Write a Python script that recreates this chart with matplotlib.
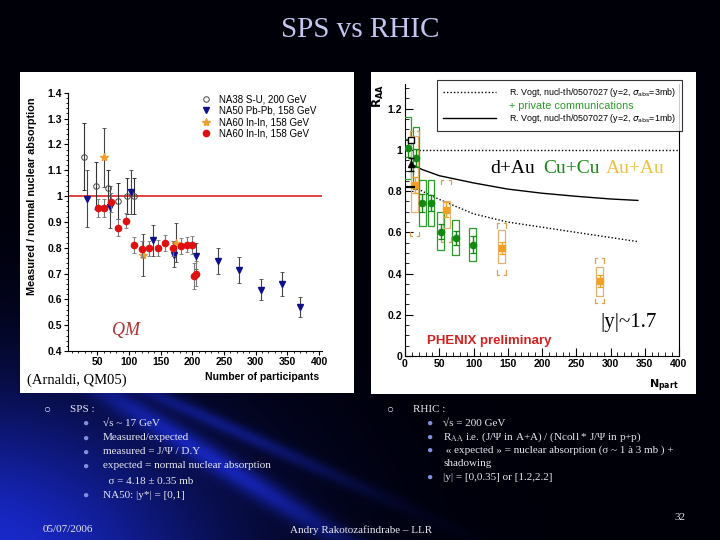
"""
SPS vs RHIC slide: J/psi suppression, NA50/NA60 vs PHENIX
"""

import numpy as np
import matplotlib
matplotlib.use("Agg")
import matplotlib.pyplot as plt
from matplotlib.patches import Rectangle
from matplotlib.lines import Line2D
from matplotlib.ticker import MultipleLocator, FormatStrFormatter

plt.rcParams['font.family'] = ['Liberation Sans', 'DejaVu Sans']

# ---------------- SPS data (Arnaldi, QM05) ----------------
na38_npart = [29, 48, 66, 82, 97, 108]
na38_val = [1.153, 1.04, 1.03, 0.98, 1.00, 1.00]
na38_err = [0.13, 0.09, 0.07, 0.07, 0.07, 0.07]

na50_npart = [33, 69, 103, 137, 171, 205, 241, 274, 308, 342, 369]
na50_val = [0.99, 0.957, 1.015, 0.828, 0.772, 0.768, 0.747, 0.714, 0.638, 0.66, 0.571]
na50_err = [0.11, 0.08, 0.085, 0.06, 0.045, 0.05, 0.05, 0.05, 0.042, 0.046, 0.038]

na60s_npart = [61, 122, 174]
na60s_val = [1.15, 0.772, 0.82]
na60s_err = [0.115, 0.08, 0.075]

na60_npart = [51, 60, 71, 83, 95, 107, 120, 132, 145, 157, 170, 182, 191, 199, 202, 205]
na60_val = [0.955, 0.955, 0.975, 0.877, 0.905, 0.81, 0.795, 0.797, 0.798, 0.818,
            0.797, 0.807, 0.812, 0.81, 0.69, 0.70]
na60_err = [0.035, 0.035, 0.035, 0.033, 0.03, 0.03, 0.03, 0.03, 0.03, 0.03,
            0.03, 0.03, 0.03, 0.035, 0.05, 0.05]

# ---------------- RHIC data (PHENIX preliminary) ----------------
cucu_npart = [4, 16, 25, 38, 52, 74, 99]
cucu_val = [1.01, 0.96, 0.742, 0.742, 0.604, 0.572, 0.54]
cucu_stat = [0.045, 0.045, 0.045, 0.04, 0.035, 0.035, 0.04]
cucu_sys_lo = [0.86, 0.81, 0.63, 0.63, 0.515, 0.49, 0.46]
cucu_sys_hi = [1.16, 1.11, 0.855, 0.855, 0.70, 0.66, 0.62]

auau_npart = [14, 60, 141, 284]
auau_val = [0.83, 0.71, 0.523, 0.364]
auau_stat = [0.04, 0.035, 0.03, 0.03]
auau_box_lo = [0.70, 0.62, 0.45, 0.29]
auau_box_hi = [1.07, 0.75, 0.61, 0.434]
auau_brk_lo = [0.58, 0.555, 0.395, 0.256]
auau_brk_hi = [1.09, 0.855, 0.645, 0.475]

dau_npart = [9, 9, 7]
dau_val = [1.05, 0.93, 0.82]

vogt_npart = [10, 25, 50, 100, 150, 200, 250, 300, 340]
vogt_1mb = [0.93, 0.905, 0.875, 0.84, 0.81, 0.79, 0.775, 0.762, 0.755]
vogt_3mb = [0.83, 0.80, 0.76, 0.69, 0.65, 0.625, 0.60, 0.575, 0.555]

W, H = 720, 540


def px(x, y):
    return x / W, 1 - y / H


def fig_rect(x0, y0, x1, y1):
    return [x0 / W, 1 - y1 / H, (x1 - x0) / W, (y1 - y0) / H]


fig = plt.figure(figsize=(7.2, 5.4), dpi=100)

# ---- slide background: dark with blue swoosh bottom-left
bg = fig.add_axes([0, 0, 1, 1], zorder=-1)
yy, xx = np.mgrid[0:H, 0:W].astype(float)
glow = np.exp(-(((xx + 30) / 250.0) ** 2 + ((570 - yy) / 175.0) ** 2))
d1 = (yy - 392) - 0.62 * (xx - 105)
d2 = (yy - 392) - 0.45 * (xx - 150)
fade = np.exp(-((xx - 220) / 150.0) ** 2) * (yy > 390)
streak = (0.6 * np.exp(-(d1 / 14.0) ** 2) + 0.4 * np.exp(-(d2 / 8.0) ** 2)) * fade
blue = np.array([0.10, 0.17, 0.80])
base = np.array([0.0, 0.0, 0.035])
img = base + (1.0 * glow + streak)[..., None] * blue
bg.imshow(np.clip(img, 0, 1), extent=(0, W, H, 0), aspect='auto')
bg.add_patch(Rectangle((20, 72), 334, 321, facecolor='white', edgecolor='none'))
bg.add_patch(Rectangle((371, 72), 325, 322, facecolor='white', edgecolor='none'))
bg.set_xlim(0, W)
bg.set_ylim(H, 0)
bg.axis('off')

# ---------------- left plot ----------------
ax1 = fig.add_axes(fig_rect(67.7, 92.7, 321.7, 351))
ax1.axhline(1.0, color='#e02020', lw=1.2, zorder=1)
ebk = dict(elinewidth=0.8, capsize=1.5, capthick=0.6, ls='none')
c1 = ax1.errorbar(na38_npart, na38_val, yerr=na38_err, fmt='o', mfc='none', mec='#444444',
                  ms=4, mew=0.7, ecolor='#333333', zorder=3, **ebk)
c2 = ax1.errorbar(na50_npart, na50_val, yerr=na50_err, fmt='v', color='#10108a', ms=4.5,
                  ecolor='#444444', zorder=4, **ebk)
c3 = ax1.errorbar(na60s_npart, na60s_val, yerr=na60s_err, fmt='*', color='#f0a030', ms=6,
                  ecolor='#444444', zorder=4, **ebk)
c4 = ax1.errorbar(na60_npart, na60_val, yerr=na60_err, fmt='o', color='#e01010', ms=4.5,
                  ecolor='#777777', zorder=5, **ebk)
ax1.legend([c1[0], c2[0], c3[0], c4[0]],
           ['NA38 S-U, 200 GeV', 'NA50 Pb-Pb, 158 GeV', 'NA60 In-In, 158 GeV', 'NA60 In-In, 158 GeV'],
           loc='upper left', bbox_to_anchor=(0.5, 1.02), frameon=False, fontsize=7,
           handlelength=1.0, handletextpad=0.8, labelspacing=0.15, borderpad=0.2)
ax1.set_xlim(3, 404)
ax1.set_ylim(0.4, 1.4)
ax1.xaxis.set_major_locator(MultipleLocator(50))
ax1.xaxis.set_minor_locator(MultipleLocator(10))
ax1.yaxis.set_major_locator(MultipleLocator(0.1))
ax1.yaxis.set_minor_locator(MultipleLocator(0.02))
ax1.xaxis.set_major_formatter(FormatStrFormatter('%g'))
ax1.yaxis.set_major_formatter(FormatStrFormatter('%g'))
ax1.set_xticks(np.arange(50, 401, 50))
ax1.tick_params(which='major', direction='out', length=3, width=0.8, labelsize=7.5, pad=1)
ax1.tick_params(which='minor', direction='out', length=1.5, width=0.6)
for lab in ax1.get_xticklabels() + ax1.get_yticklabels():
    lab.set_fontweight('bold')
for s in ['top', 'right']:
    ax1.spines[s].set_visible(False)
ax1.set_ylabel('Measured / normal nuclear absorption', fontsize=7.8, fontweight='bold')
ax1.yaxis.set_label_coords(-0.12, 0.60)
ax1.set_xlabel('Number of participants', fontsize=7.5, fontweight='bold', loc='right')
ax1.xaxis.set_label_coords(0.99, -0.08)

# ---------------- right plot ----------------
ax2 = fig.add_axes(fig_rect(405, 84, 679, 356))
ax2.axhline(1.0, xmin=0.025, color='black', ls=(0, (1, 1.5)), lw=1.0, zorder=1)
ax2.plot(vogt_npart, vogt_1mb, color='black', lw=1.0, zorder=2)
ax2.plot(vogt_npart, vogt_3mb, color='black', ls=(0, (1, 1.5)), lw=1.0, zorder=2)

box_w = 10
for x, lo, hi in zip(cucu_npart, cucu_sys_lo, cucu_sys_hi):
    ax2.add_patch(Rectangle((x - box_w / 2, lo), box_w, hi - lo, fill=False,
                            edgecolor='#2a9a2a', lw=0.9, zorder=3))
for x, lo, hi in zip(auau_npart, auau_box_lo, auau_box_hi):
    ax2.add_patch(Rectangle((x - box_w / 2, lo), box_w, hi - lo, fill=False,
                            edgecolor='#e0b070', lw=0.9, zorder=3))
brk_w, brk_h = 14, 0.022
for x, lo, hi in zip(auau_npart, auau_brk_lo, auau_brk_hi):
    for sx in (-1, 1):
        xe = x + sx * brk_w / 2
        xi = x + sx * (brk_w / 2 - 3)
        ax2.plot([xi, xe, xe], [lo, lo, lo + brk_h], color='#d8a050', lw=0.9, zorder=3)
        ax2.plot([xi, xe, xe], [hi, hi, hi - brk_h], color='#d8a050', lw=0.9, zorder=3)

ax2.errorbar(cucu_npart, cucu_val, yerr=cucu_stat, fmt='o', color='#128a12', ms=4.5,
             elinewidth=1.0, capsize=2.5, capthick=0.9, zorder=5)
ax2.errorbar(auau_npart, auau_val, yerr=auau_stat, fmt='s', color='#f5a020', ms=4.5,
             elinewidth=1.0, capsize=2.5, capthick=0.9, zorder=5)
ax2.plot(dau_npart[0], dau_val[0], 's', mfc='white', mec='black', ms=5, mew=1.0, zorder=6)
ax2.errorbar(dau_npart[1], dau_val[1], yerr=0.03, fmt='^', color='black', ms=4,
             capsize=2, elinewidth=0.9, zorder=6)
ax2.plot(dau_npart[2], dau_val[2], '_', color='black', ms=7, mew=1.6, zorder=6)

lab3 = r'R. Vogt, nucl-th/0507027 (y=2, $\sigma_{\rm abs}$=3mb)'
lab1 = r'R. Vogt, nucl-th/0507027 (y=2, $\sigma_{\rm abs}$=1mb)'
h1 = Line2D([], [], color='black', ls=(0, (1, 1.5)), lw=1.0)
h2 = Line2D([], [], color='none')
h3 = Line2D([], [], color='black', lw=1.0)
leg = ax2.legend([h1, h2, h3], [lab3, '+ private communications', lab1],
                 loc='upper right', bbox_to_anchor=(686 / W, 1 - 76 / H),
                 bbox_transform=fig.transFigure, fontsize=6.4, frameon=True, fancybox=False,
                 edgecolor='black', handlelength=6.0, handletextpad=1.5,
                 labelspacing=0.2, borderpad=0.6)
leg.get_frame().set_linewidth(0.8)
leg.get_texts()[1].set_color('#2a9a2a')
leg.get_texts()[1].set_fontsize(7.8)

ax2.set_xlim(0, 400)
ax2.set_ylim(0, 1.32)
ax2.xaxis.set_major_locator(MultipleLocator(50))
ax2.xaxis.set_minor_locator(MultipleLocator(10))
ax2.yaxis.set_major_locator(MultipleLocator(0.2))
ax2.yaxis.set_minor_locator(MultipleLocator(0.05))
ax2.xaxis.set_major_formatter(FormatStrFormatter('%g'))
ax2.yaxis.set_major_formatter(FormatStrFormatter('%g'))
ax2.set_yticks(np.arange(0, 1.21, 0.2))
ax2.tick_params(which='major', direction='in', length=6, width=0.8, labelsize=7.5, pad=2)
ax2.tick_params(which='minor', direction='in', length=3, width=0.6)
for lab in ax2.get_xticklabels() + ax2.get_yticklabels():
    lab.set_fontweight('bold')
ax2.spines['top'].set_visible(False)
ax2.set_ylabel(r'$\mathbf{R_{AA}}$', fontsize=8.5, loc='top', labelpad=1)
ax2.set_xlabel(r'$\mathbf{N_{part}}$', fontsize=8, loc='right', labelpad=6)

# ---------------- overlay texts ----------------
serif = ['Liberation Serif', 'DejaVu Serif']
fig.text(*px(360, 30), 'SPS vs RHIC', ha='center', va='center', family=serif,
         fontsize=21, color='#c4c6f0')
fig.text(*px(27, 380), '(Arnaldi, QM05)', ha='left', va='center', family=serif,
         fontsize=10.5, color='black')
fig.text(*px(112, 331), 'QM', ha='left', va='center', family=serif, style='italic',
         fontsize=13, color='#b03030')

fig.text(*px(490, 169), 'd+Au', ha='left', va='center', family=serif, fontsize=14, color='black')
fig.text(*px(543, 169), 'Cu+Cu', ha='left', va='center', family=serif, fontsize=14, color='#1a8a1a')
fig.text(*px(606, 169), 'Au+Au', ha='left', va='center', family=serif, fontsize=14, color='#f0c040')
fig.text(*px(600, 322), '|y|~1.7', ha='left', va='center', family=serif, fontsize=15, color='black')
fig.text(*px(427, 341), 'PHENIX preliminary', ha='left', va='center', fontsize=9.5,
         fontweight='bold', color='#d42020')

txt = '#e6e6f0'
dot = '#8090dc'
fig.text(*px(48, 410), '○', ha='center', va='center', fontsize=8.5, color=txt)
fig.text(*px(70, 410), 'SPS :', ha='left', va='center', family=serif, fontsize=8, color=txt)
sps_lines = [(423, '√s ~ 17 GeV', True),
             (438, 'Measured/expected', True),
             (452, 'measured = J/Ψ / D.Y', True),
             (466, 'expected = normal nuclear absorption', True),
             (481, '  σ = 4.18 ± 0.35 mb', False),
             (495, 'NA50: |y*| = [0,1]', True)]
for y, s, bullet in sps_lines:
    if bullet:
        fig.text(*px(85, y), '●', ha='center', va='center', fontsize=7.5, color=dot)
    fig.text(*px(103, y), s, ha='left', va='center', family=serif, fontsize=8, color=txt)

fig.text(*px(391, 410), '○', ha='center', va='center', fontsize=8.5, color=txt)
fig.text(*px(413, 410), 'RHIC :', ha='left', va='center', family=serif, fontsize=8, color=txt)
rhic_lines = [(423, '√s = 200 GeV', True),
              (437, r'R$_{\rm AA}$ i.e. (J/Ψ in A+A) / (Ncoll * J/Ψ in p+p)', True),
              (450, ' « expected » = nuclear absorption (σ ~ 1 à 3 mb ) +', True),
              (463, 'shadowing', False),
              (477, '|y| = [0,0.35] or [1.2,2.2]', True)]
for y, s, bullet in rhic_lines:
    if bullet:
        fig.text(*px(429, y), '●', ha='center', va='center', fontsize=7.5, color=dot)
    fig.text(*px(443, y), s, ha='left', va='center', family=serif, fontsize=8,
             color=txt, math_fontfamily='stix')

fig.text(*px(43, 530), '05/07/2006', ha='left', va='center', family=serif, fontsize=8, color=txt)
fig.text(*px(361, 530), 'Andry Rakotozafindrabe – LLR', ha='center', va='center',
         family=serif, fontsize=8, color=txt)
fig.text(*px(680, 518), '32', ha='center', va='center', family=serif, fontsize=8, color=txt)

fig.savefig('out.png', dpi=100)
